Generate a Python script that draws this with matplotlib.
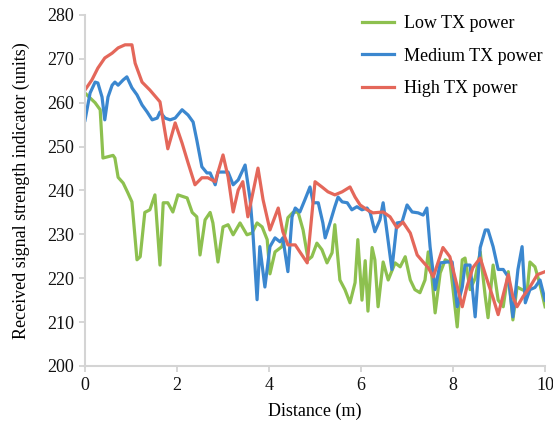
import matplotlib
matplotlib.use("Agg")
import matplotlib.pyplot as plt

# distance (m) and RSSI readings for each TX power level
low_d = [0.0, 0.22, 0.33, 0.39, 0.61, 0.65, 0.72, 0.83, 0.93, 1.02, 1.13, 1.20, 1.30, 1.41, 1.52,
         1.63, 1.70, 1.80, 1.91, 2.02, 2.22, 2.33, 2.43, 2.50, 2.61, 2.72, 2.78, 2.89, 3.00, 3.11,
         3.22, 3.37, 3.52, 3.63, 3.74, 3.85, 3.96, 4.02, 4.13, 4.28, 4.35, 4.41, 4.52, 4.63, 4.74,
         4.85, 4.93, 5.04, 5.15, 5.26, 5.37, 5.43, 5.54, 5.65, 5.76, 5.87, 5.93, 6.02, 6.09, 6.15,
         6.24, 6.30, 6.37, 6.48, 6.59, 6.74, 6.85, 6.96, 7.07, 7.17, 7.28, 7.39, 7.46, 7.54, 7.61,
         7.72, 7.83, 7.93, 8.00, 8.09, 8.20, 8.26, 8.37, 8.48, 8.59, 8.70, 8.76, 8.87, 8.98, 9.09,
         9.20, 9.30, 9.39, 9.50, 9.61, 9.67, 9.78, 9.89, 10.0]
low_v = [262.2, 260, 258.4, 247.4, 248, 247.4, 243, 241.7, 239.5, 237.4, 224.2, 224.9, 235, 235.6, 239,
         223, 237.2, 237.2, 235.1, 239, 238.3, 235, 234, 225.3, 233.3, 235, 232.6, 223.7, 231.7, 232.2,
         229.9, 232.6, 229.9, 230.3, 232.6, 231.7, 228.8, 221, 226, 227.2, 230.3, 233.8, 235, 235.1, 231,
         224.2, 224.9, 228, 226.5, 223.5, 225.8, 232.2, 219.6, 217.4, 214.4, 219, 228.8, 215, 224, 212.5,
         227, 224.2, 213.5, 223.7, 219.6, 223.5, 222.6, 224.9, 219.6, 217.4, 216.7, 219.6, 226, 220.3, 212.1,
         221.2, 224.2, 223.7, 217.4, 208.9, 224.2, 224.6, 217.4, 220, 226, 215.8, 211, 223, 215, 213.5,
         221.5, 210.5, 218, 217.4, 216.9, 223.7, 222.6, 218.5, 213.5]

med_d = [0.0, 0.11, 0.22, 0.28, 0.37, 0.43, 0.50, 0.59, 0.65, 0.72, 0.83, 0.91, 1.02, 1.13, 1.24,
         1.35, 1.46, 1.57, 1.63, 1.74, 1.85, 1.96, 2.11, 2.24, 2.35, 2.43, 2.54, 2.65, 2.72, 2.83,
         2.89, 3.00, 3.11, 3.22, 3.33, 3.48, 3.59, 3.65, 3.74, 3.80, 3.91, 4.02, 4.13, 4.24, 4.30,
         4.41, 4.50, 4.57, 4.67, 4.78, 4.89, 4.96, 5.07, 5.17, 5.22, 5.33, 5.43, 5.50, 5.59, 5.70,
         5.80, 5.91, 6.02, 6.13, 6.20, 6.30, 6.41, 6.48, 6.67, 6.78, 6.89, 7.00, 7.11, 7.24, 7.35,
         7.43, 7.50, 7.61, 7.72, 7.87, 7.98, 8.09, 8.20, 8.26, 8.37, 8.48, 8.59, 8.70, 8.76, 8.87,
         8.98, 9.09, 9.20, 9.30, 9.41, 9.50, 9.57, 9.67, 9.78, 9.89, 10.0]
med_v = [256, 262.2, 264.7, 264.5, 261.3, 256.1, 261.3, 264, 264.7, 264, 265.2, 265.9, 263.4, 261.8, 259.5,
         257.9, 256.1, 256.5, 257.9, 256.5, 256.1, 256.5, 258.4, 257.2, 255.6, 251.5, 245.4, 244, 244, 241.3,
         244.2, 244.2, 244.2, 241.3, 242.4, 245.8, 237.9, 230.3, 215.1, 227.2, 218, 227.2, 229.2, 228.3, 229.2,
         221.5, 234, 236, 235.1, 237.9, 240.8, 237.2, 237.2, 232.6, 229.2, 232.8, 236.3, 238.5, 237.4, 237.2,
         235.6, 236.3, 235.6, 236, 234.9, 230.6, 233.3, 237.2, 222, 232.6, 232.8, 236.7, 235.1, 234.9, 234.4,
         236, 227.2, 217.4, 223.5, 223.7, 223.7, 213.5, 218, 223, 223, 211.2, 227, 231, 231, 227.2,
         222, 222, 220.3, 211.2, 222, 227.2, 214.4, 217.4, 217.9, 219.6, 215]

high_d = [0.0, 0.15, 0.28, 0.43, 0.59, 0.72, 0.87, 1.02, 1.09, 1.24, 1.41, 1.63, 1.80, 1.96, 2.11,
          2.24, 2.39, 2.54, 2.67, 2.83, 3.00, 3.11, 3.22, 3.33, 3.43, 3.54, 3.76, 3.87, 4.02, 4.20,
          4.30, 4.41, 4.57, 4.67, 4.83, 5.00, 5.15, 5.28, 5.43, 5.59, 5.76, 5.87, 5.98, 6.13, 6.26,
          6.48, 6.63, 6.78, 6.91, 7.07, 7.22, 7.35, 7.46, 7.57, 7.78, 7.93, 8.20, 8.30, 8.43, 8.59,
          8.74, 8.87, 8.98, 9.09, 9.20, 9.30, 9.39, 9.52, 9.67, 9.83, 10.0]
high_v = [262.9, 265.2, 267.9, 270.2, 271.3, 272.5, 273.2, 273.2, 269, 264.7, 262.9, 260.2, 249.5, 255.4, 250.8,
          246.3, 241.3, 242.9, 242.9, 242, 248.1, 243.1, 235.1, 240.1, 242, 234, 245.1, 237.9, 231, 236,
          230.6, 227.6, 227.6, 226, 223.5, 242, 240.8, 239.7, 239, 239.7, 240.8, 238.5, 236.7, 235.6, 234.9,
          235.1, 234, 231.5, 232.8, 230.3, 225.3, 223.7, 222.4, 220.3, 227, 224.9, 213.5, 218, 222.4, 224.6,
          219.6, 215.5, 211.7, 216.2, 220.8, 215.8, 213.5, 215.8, 218, 220.8, 221.5]

plt.rcParams['font.family'] = ['Liberation Serif', 'DejaVu Serif']

fig = plt.figure(figsize=(5.53, 4.28), dpi=100)
ax = fig.add_axes([0.1537, 0.1449, 0.832, 0.8201])

ax.plot(low_d, low_v, color='#8dc04f', lw=2.3, label='Low TX power')
ax.plot(med_d, med_v, color='#3b87cf', lw=2.3, label='Medium TX power')
ax.plot(high_d, high_v, color='#e4675a', lw=2.3, label='High TX power')

ax.set_xlim(0, 10)
ax.set_ylim(200, 280)
ax.set_xticks(range(0, 11, 2))
ax.set_yticks(range(200, 281, 10))
ax.tick_params(labelsize=13, color='#d0d0d0', length=4, width=1.2, pad=4, labelcolor='#111111')

for s in ['top', 'right']:
    ax.spines[s].set_visible(False)
for s in ['left', 'bottom']:
    ax.spines[s].set_color('#d4d4d4')
    ax.spines[s].set_linewidth(1.5)

ax.set_xlabel('Distance (m)', fontsize=13, labelpad=6)
ax.set_ylabel('Received signal strength indicator (units)', fontsize=13, labelpad=12)

ax.legend(loc='upper right', bbox_to_anchor=(1.03, 1.045), frameon=False, fontsize=13,
          handlelength=1.75, labelspacing=0.85, handletextpad=0.55)

fig.savefig('out.png', dpi=100)
